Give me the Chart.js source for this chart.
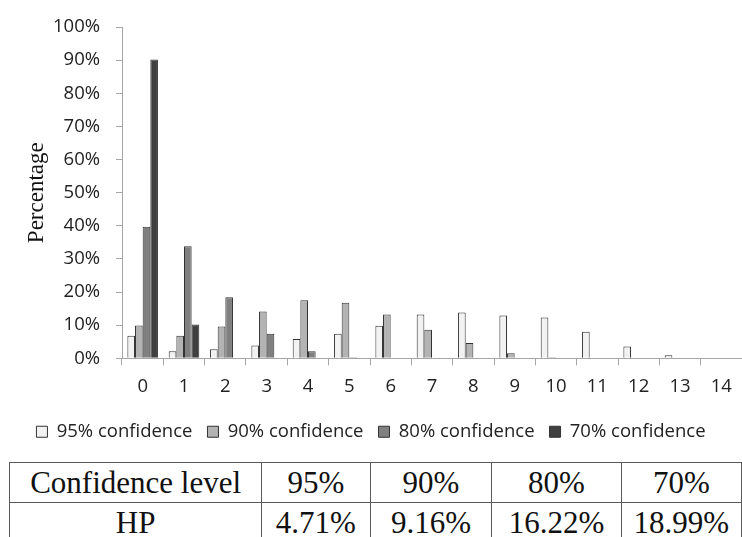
<!DOCTYPE html>
<html lang="en">
<head>
    <meta charset="UTF-8">
    <title>Percentage by Confidence Level</title>
    <script src="https://cdn.jsdelivr.net/npm/chart.js"></script>
    <style>
        html, body { margin: 0; padding: 0; background: #fff; overflow: hidden; }
        #wrap { position: relative; width: 742px; height: 537px; }
        #chart { position: absolute; left: 0; top: 0; }
        #hpTable {
            position: absolute; left: 9px; top: 462px;
            border-collapse: collapse;
            font-family: "Liberation Serif", "Times New Roman", serif;
            font-size: 31px; color: #111;
        }
        #hpTable td {
            border: 1.5px solid #5a5a5a;
            height: 39px; padding: 0;
            text-align: center; line-height: 39px;
        }
    </style>
</head>
<body>
    <div id="wrap">
        <canvas id="chart" width="742" height="455"></canvas>
        <table id="hpTable"></table>
    </div>

    <script>
        // number of positions on the x axis
        const positions = ['0', '1', '2', '3', '4', '5', '6', '7', '8', '9', '10', '11', '12', '13', '14'];

        // percentages for each confidence level
        const conf95 = [6.8, 2.1, 2.7, 3.9, 5.8, 7.4, 9.8, 13.2, 13.8, 12.9, 12.3, 8.0, 3.6, 0.9, 0];
        const conf90 = [9.9, 6.8, 9.6, 14.1, 17.5, 16.8, 13.2, 8.6, 4.6, 1.5, 0.3, 0, 0, 0, 0];
        const conf80 = [39.7, 33.8, 18.4, 7.4, 2.1, 0.3, 0, 0, 0, 0, 0, 0, 0, 0, 0];
        const conf70 = [90.2, 10.2, 0, 0, 0, 0, 0, 0, 0, 0, 0, 0, 0, 0, 0];

        const seriesLabels = ['95% confidence', '90% confidence', '80% confidence', '70% confidence'];
        const seriesFill = ['#f2f2f2', '#b3b3b3', '#808080', '#404040'];

        // HP table below the chart
        const tableHeader = ['Confidence level', '95%', '90%', '80%', '70%'];
        const tableRow = ['HP', '4.71%', '9.16%', '16.22%', '18.99%'];
        const colWidths = [254, 108, 122, 129, 120];

        const tickFont = { family: '"Open Sans", sans-serif', size: 18.5 };
        const axisGray = '#a6a6a6';

        const allSeries = [conf95, conf90, conf80, conf70];

        new Chart(document.getElementById('chart'), {
            type: 'bar',
            data: {
                labels: positions,
                datasets: allSeries.map((values, i) => ({
                    label: seriesLabels[i],
                    data: values,
                    backgroundColor: seriesFill[i],
                    borderColor: '#333',
                    borderWidth: 1,
                    borderSkipped: 'bottom',
                    categoryPercentage: 0.74,
                    barPercentage: 1.0
                }))
            },
            options: {
                responsive: false,
                animation: false,
                layout: { padding: { top: 25, right: 0, left: 0, bottom: 4 } },
                plugins: {
                    tooltip: { enabled: false },
                    legend: {
                        position: 'bottom',
                        labels: {
                            font: tickFont,
                            color: '#222',
                            boxWidth: 11,
                            boxHeight: 11,
                            padding: 15
                        }
                    }
                },
                scales: {
                    x: {
                        offset: true,
                        grid: {
                            offset: true,
                            drawOnChartArea: false,
                            tickLength: 7,
                            color: axisGray
                        },
                        border: { color: axisGray },
                        ticks: { font: tickFont, color: '#222', padding: 10, maxRotation: 0 }
                    },
                    y: {
                        min: 0,
                        max: 100,
                        afterFit: scale => { scale.width = 122; },
                        grid: {
                            drawOnChartArea: false,
                            tickLength: 6,
                            color: axisGray
                        },
                        border: { color: axisGray },
                        ticks: {
                            stepSize: 10,
                            font: tickFont,
                            color: '#222',
                            padding: 16,
                            callback: v => v + '%'
                        },
                        title: {
                            display: true,
                            text: 'Percentage',
                            color: '#111',
                            font: { family: '"Liberation Serif", serif', size: 23 },
                            padding: { top: 23, bottom: 0 }
                        }
                    }
                }
            }
        });

        // build the table from the arrays above
        const table = document.getElementById('hpTable');
        [tableHeader, tableRow].forEach(row => {
            const tr = document.createElement('tr');
            row.forEach((text, i) => {
                const td = document.createElement('td');
                td.textContent = text;
                td.style.width = colWidths[i] + 'px';
                tr.appendChild(td);
            });
            table.appendChild(tr);
        });
    </script>
</body>
</html>
